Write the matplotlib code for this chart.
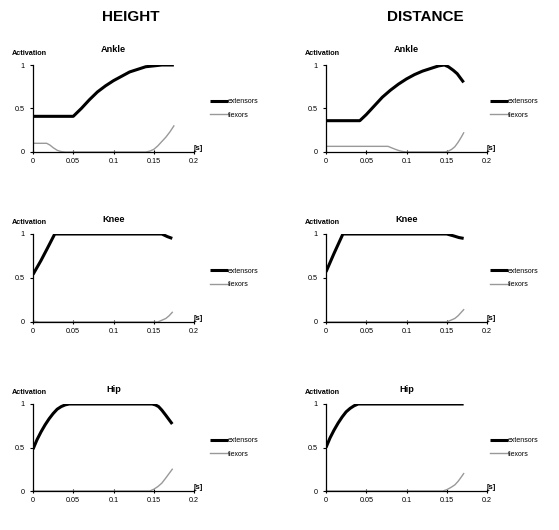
import matplotlib
matplotlib.use("Agg")
import matplotlib.pyplot as plt

plt.rcParams['font.family'] = ['Liberation Sans', 'DejaVu Sans']

# HEIGHT column
h_ankle_ext_t = [0, 0.05, 0.06, 0.07, 0.08, 0.09, 0.10, 0.11, 0.12, 0.13, 0.14, 0.15, 0.16, 0.175]
h_ankle_ext = [0.41, 0.41, 0.50, 0.60, 0.69, 0.76, 0.82, 0.87, 0.92, 0.95, 0.98, 0.99, 1.0, 1.0]
h_ankle_flx_t = [0, 0.017, 0.021, 0.025, 0.03, 0.035, 0.04, 0.14, 0.145, 0.15, 0.155, 0.16, 0.165, 0.17, 0.175]
h_ankle_flx = [0.10, 0.10, 0.08, 0.05, 0.02, 0.005, 0.0, 0.0, 0.01, 0.03, 0.07, 0.12, 0.17, 0.23, 0.30]

h_knee_ext_t = [0, 0.01, 0.018, 0.027, 0.16, 0.167, 0.173]
h_knee_ext = [0.54, 0.70, 0.84, 1.0, 1.0, 0.97, 0.95]
h_knee_flx_t = [0, 0.004, 0.008, 0.155, 0.16, 0.165, 0.169, 0.173]
h_knee_flx = [0.01, 0.005, 0.0, 0.0, 0.02, 0.04, 0.07, 0.11]

h_hip_ext_t = [0, 0.005, 0.01, 0.015, 0.02, 0.025, 0.03, 0.035, 0.04, 0.045, 0.148, 0.152, 0.156, 0.16, 0.165, 0.169, 0.173]
h_hip_ext = [0.48, 0.59, 0.68, 0.76, 0.83, 0.89, 0.94, 0.97, 0.99, 1.0, 1.0, 0.99, 0.97, 0.93, 0.87, 0.82, 0.77]
h_hip_flx_t = [0, 0.145, 0.15, 0.155, 0.16, 0.165, 0.169, 0.173]
h_hip_flx = [0.0, 0.0, 0.02, 0.05, 0.09, 0.15, 0.20, 0.25]

# DISTANCE column
d_ankle_ext_t = [0, 0.042, 0.05, 0.06, 0.07, 0.08, 0.09, 0.10, 0.11, 0.12, 0.13, 0.14, 0.147, 0.152, 0.158, 0.163, 0.167, 0.171]
d_ankle_ext = [0.36, 0.36, 0.43, 0.53, 0.63, 0.71, 0.78, 0.84, 0.89, 0.93, 0.96, 0.99, 1.0, 0.98, 0.94, 0.90, 0.85, 0.80]
d_ankle_flx_t = [0, 0.077, 0.081, 0.085, 0.09, 0.095, 0.1, 0.148, 0.152, 0.156, 0.16, 0.164, 0.168, 0.171]
d_ankle_flx = [0.065, 0.065, 0.05, 0.035, 0.018, 0.006, 0.0, 0.0, 0.01, 0.03, 0.06, 0.11, 0.17, 0.22]

d_knee_ext_t = [0, 0.01, 0.021, 0.15, 0.158, 0.165, 0.171]
d_knee_ext = [0.57, 0.78, 1.0, 1.0, 0.98, 0.96, 0.95]
d_knee_flx_t = [0, 0.15, 0.155, 0.16, 0.164, 0.168, 0.171]
d_knee_flx = [0.0, 0.0, 0.02, 0.04, 0.07, 0.11, 0.14]

d_hip_ext_t = [0, 0.005, 0.01, 0.015, 0.02, 0.025, 0.03, 0.035, 0.04, 0.171]
d_hip_ext = [0.50, 0.61, 0.70, 0.78, 0.85, 0.91, 0.95, 0.98, 1.0, 1.0]
d_hip_flx_t = [0, 0.145, 0.15, 0.155, 0.16, 0.164, 0.168, 0.171]
d_hip_flx = [0.0, 0.0, 0.015, 0.04, 0.07, 0.11, 0.16, 0.20]

joints = ['Ankle', 'Knee', 'Hip']
xticks = [0, 0.05, 0.1, 0.15, 0.2]
xticklabels = ['0', '0.05', '0.1', '0.15', '0.2']
yticks = [0, 0.5, 1]
yticklabels = ['0', '0.5', '1']

columns = [
    [(h_ankle_ext_t, h_ankle_ext, h_ankle_flx_t, h_ankle_flx),
     (h_knee_ext_t, h_knee_ext, h_knee_flx_t, h_knee_flx),
     (h_hip_ext_t, h_hip_ext, h_hip_flx_t, h_hip_flx)],
    [(d_ankle_ext_t, d_ankle_ext, d_ankle_flx_t, d_ankle_flx),
     (d_knee_ext_t, d_knee_ext, d_knee_flx_t, d_knee_flx),
     (d_hip_ext_t, d_hip_ext, d_hip_flx_t, d_hip_flx)],
]

W, H = 559, 530
fig = plt.figure(figsize=(W / 100, H / 100), dpi=100, facecolor='white')

lefts = [33, 326]       # pixel x of axis origin
legx = [210, 490]       # pixel x where legend line starts
rows = [(65, 152), (234, 322), (404, 491)]  # pixel y of top / bottom
axw = 161

for c, col in enumerate(columns):
    for r, (et, ev, ft, fv) in enumerate(col):
        top, bot = rows[r]
        ax = fig.add_axes([lefts[c] / W, 1 - bot / H, axw / W, (bot - top) / H])
        ax.plot(et, ev, color='black', lw=2.2, label='extensors', solid_capstyle='butt')
        ax.plot(ft, fv, color='#999999', lw=1.0, label='flexors')
        ax.set_xlim(0, 0.2)
        ax.set_ylim(0, 1)
        ax.set_xticks(xticks)
        ax.set_xticklabels(xticklabels)
        ax.set_yticks(yticks)
        ax.set_yticklabels(yticklabels)
        for s in ['top', 'right']:
            ax.spines[s].set_visible(False)
        for s in ['left', 'bottom']:
            ax.spines[s].set_linewidth(0.9)
        ax.tick_params(axis='x', direction='inout', length=3, width=0.8, labelsize=5.2, pad=3)
        ax.tick_params(axis='y', direction='out', length=2, width=0.8, labelsize=5.2, pad=4)
        ax.patch.set_alpha(0)
        ax.set_title(joints[r], fontsize=6.6, fontweight='bold', pad=9)
        ax.text(-0.13, 1.13, 'Activation', transform=ax.transAxes, fontsize=5.2,
                fontweight='bold', ha='left', va='center')
        ax.text(1.0, 0.0, '[s]', transform=ax.transAxes, fontsize=5.6, fontweight='bold',
                ha='left', va='bottom')
        ax.legend(loc='center left', bbox_to_anchor=((legx[c] - lefts[c]) / axw, 0.5),
                  frameon=False, fontsize=5.0, handlelength=2.6, handletextpad=0.0,
                  labelspacing=0.95, borderaxespad=0, borderpad=0)

fig.text(131 / W, 1 - 17 / H, 'HEIGHT', fontsize=11, fontweight='bold', ha='center', va='center')
fig.text(425 / W, 1 - 17 / H, 'DISTANCE', fontsize=11, fontweight='bold', ha='center', va='center')

fig.savefig('out.png', dpi=100, facecolor='white')
